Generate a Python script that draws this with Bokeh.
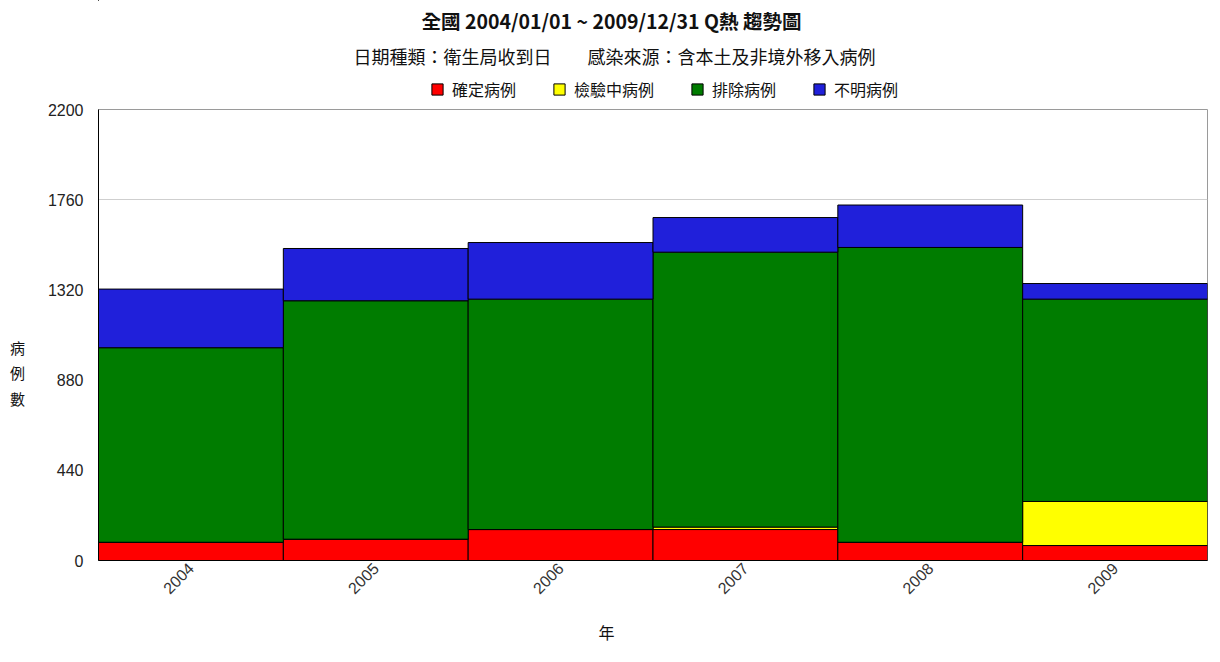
from bokeh.plotting import figure
from bokeh.layouts import column
from bokeh.models import (FactorRange, Range1d, FixedTicker, Title, Legend,
                          LegendItem, Label)
from bokeh.embed import file_html
from bokeh.resources import INLINE

# Annual Q fever case counts by status
years = ["2004", "2005", "2006", "2007", "2008", "2009"]
confirmed = [89, 104, 151, 151, 89, 73]       # 確定病例
pending = [0, 0, 0, 12, 0, 215]                # 檢驗中病例
excluded = [949, 1163, 1124, 1341, 1438, 987]  # 排除病例
unknown = [286, 255, 276, 169, 207, 76]        # 不明病例

series = ["confirmed", "pending", "excluded", "unknown"]
series_names = ["確定病例", "檢驗中病例", "排除病例", "不明病例"]
colors = ["#ff0000", "#ffff00", "#007c00", "#2020da"]
y_ticks = [0, 440, 880, 1320, 1760, 2200]

CJK = "Noto Sans CJK TC"
LAT = "Liberation Sans"

W = 1220
HEAD_H = 101
MAIN_TOP = 8
MAIN_H = 662 - HEAD_H
LEFT, RIGHT, BOTTOM = 98, 13, 102

# ---- header: title, subtitle and legend -------------------------------
# its frame lines up with the chart frame below (x 98..1207 on the page)
head = figure(
    width=W, height=HEAD_H, x_range=Range1d(LEFT, W - RIGHT),
    y_range=Range1d(HEAD_H, 0),
    x_axis_type=None, y_axis_type=None, output_backend="svg",
    toolbar_location=None, tools="", min_border=0,
)
head.outline_line_color = None
head.grid.grid_line_color = None
head.background_fill_color = "white"
head.border_fill_color = "white"

head.add_layout(Label(x=611, y=20, text="全國 2004/01/01 ~ 2009/12/31 Q熱 趨勢圖",
                      text_font=CJK, text_font_size="19.5px", text_font_style="bold",
                      text_align="center", text_baseline="middle",
                      text_color="#111111"))
head.add_layout(Label(x=614, y=55,
                      text="日期種類：衛生局收到日　　感染來源：含本土及非境外移入病例",
                      text_font=CJK, text_font_size="18px",
                      text_align="center", text_baseline="middle",
                      text_color="#111111"))

# legend swatches come from off-view dummy bars
swatches = [head.vbar(x=[-1000], top=[-1000], bottom=[-1001], width=1,
                      fill_color=c, line_color="black") for c in colors]
legend = Legend(
    items=[LegendItem(label=n, renderers=[r]) for n, r in zip(series_names, swatches)],
    orientation="horizontal", location=(430 - LEFT, 0),
    glyph_width=14, glyph_height=14, label_standoff=8, spacing=36,
    padding=0, margin=0,
    label_text_font=CJK, label_text_font_size="16px", label_text_color="#111111",
    border_line_color=None, background_fill_alpha=0,
)
head.add_layout(legend, "center")

# ---- main stacked bar chart -------------------------------------------
p = figure(
    width=W, height=MAIN_H, title=None,
    x_range=FactorRange(*years, range_padding=0),
    y_range=Range1d(0, 2200),
    output_backend="svg", toolbar_location=None, tools="",
    min_border_left=LEFT, min_border_right=RIGHT,
    min_border_top=MAIN_TOP, min_border_bottom=BOTTOM,
)
p.background_fill_color = "white"
p.border_fill_color = "white"
p.outline_line_color = "#9a9a9a"

data = dict(year=years, confirmed=confirmed, pending=pending,
            excluded=excluded, unknown=unknown)
p.vbar_stack(series, x="year", width=1.0, source=data,
             fill_color=colors, line_color="black", line_width=1)

p.xgrid.grid_line_color = None
p.ygrid.grid_line_color = "#cfcfcf"
p.ygrid.ticker = FixedTicker(ticks=y_ticks)
p.yaxis.ticker = FixedTicker(ticks=y_ticks)
p.yaxis.major_tick_line_color = None
p.yaxis.minor_tick_line_color = None
p.yaxis.major_tick_out = 0
p.yaxis.major_tick_in = 0
p.yaxis.major_label_standoff = 15
p.yaxis.axis_line_color = "black"
p.yaxis.major_label_text_font = LAT
p.yaxis.major_label_text_font_size = "16px"
p.yaxis.major_label_text_color = "#222222"
# blank leading lines push the stacked characters below the frame centre
p.yaxis.axis_label = "　\n　\n　\n病\n例\n數"
p.yaxis.axis_label_orientation = "horizontal"
p.yaxis.axis_label_text_font = CJK
p.yaxis.axis_label_text_font_style = "normal"
p.yaxis.axis_label_text_font_size = "15px"
p.yaxis.axis_label_text_line_height = 1.2
p.yaxis.axis_label_standoff = 20
p.yaxis.axis_label_text_color = "#111111"

p.xaxis.major_tick_line_color = None
p.xaxis.major_tick_out = 0
p.xaxis.major_tick_in = 0
p.xaxis.major_label_standoff = 5
p.xaxis.axis_line_color = "black"
p.xaxis.major_label_orientation = 0.785398
p.xaxis.major_label_text_font = LAT
p.xaxis.major_label_text_font_size = "16px"
p.xaxis.major_label_text_color = "#333333"

# x-axis title
p.add_layout(Title(text="年", align="left", offset=500, text_font=CJK,
                   text_font_size="16px", text_font_style="normal",
                   text_color="#111111", vertical_align="top",
                   standoff=34), "below")

page = column(head, p, spacing=0)
open("out.html", "w").write(file_html(page, INLINE))
